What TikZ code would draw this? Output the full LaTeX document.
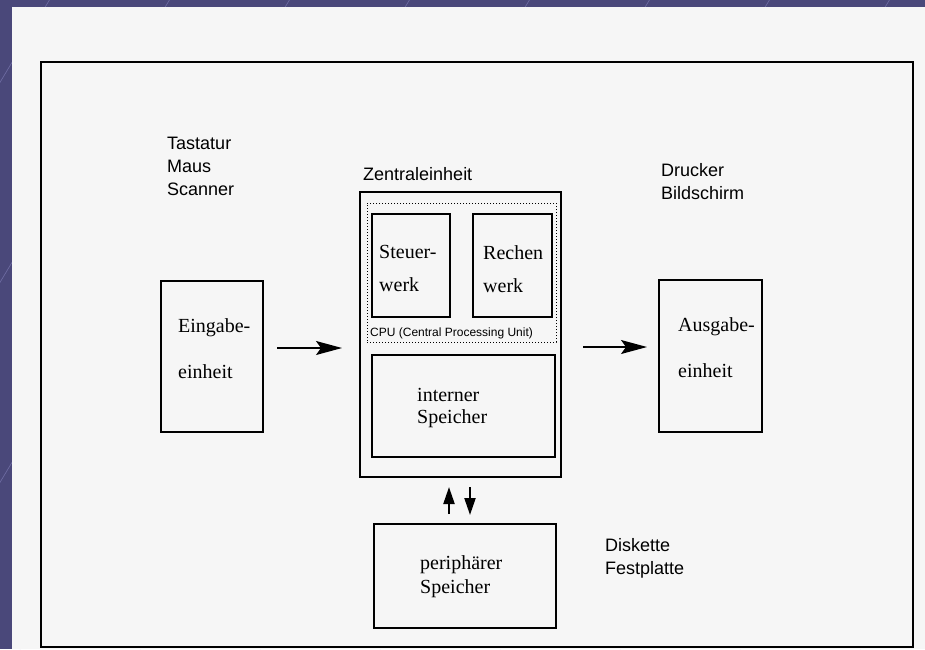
\documentclass[tikz,border=0pt]{standalone}
\usepackage{fontspec}
\setmainfont{Liberation Serif}
\setsansfont{Liberation Sans}
\usepackage{tikz}
\usetikzlibrary{arrows.meta,positioning}
\definecolor{folie}{RGB}{74,72,122}
\definecolor{folielinie}{RGB}{112,110,165}
\definecolor{papier}{RGB}{246,246,246}

\begin{document}
\begin{tikzpicture}[x=1pt, y=-1pt, lbl/.style={inner sep=0pt, align=left, font=\sffamily\fontsize{18}{23}\selectfont}, txt/.style={inner sep=0pt, align=left, anchor=north west}]
\tikzstyle{box}=[draw, line width=1.4pt, inner sep=0pt]
\tikzstyle{pfeil}=[line width=1.2pt, -{Stealth[length=26pt, width=14pt, inset=5pt]}]
\useasboundingbox (0,0) rectangle (925,649);
% Folienhintergrund
\fill[folie] (0,0) rectangle (925,649);
\begin{scope}
\clip (0,0) rectangle (925,649);
\foreach \k in {-700,-580,...,1000}{\draw[folielinie, line width=0.6pt] (\k,649) -- ++(420,-700);}
\end{scope}
\fill[papier] (12,7) rectangle (925,649);
\draw[line width=1.8pt] (41,62) rectangle (913,647);
% Geraete
\node[lbl, anchor=north west] (eingabegeraete) at (167,137) {Tastatur\\Maus\\Scanner};
\node[lbl, anchor=base west] (zentraltitel) at (363,180) {Zentraleinheit};
\node[lbl, anchor=north west] (ausgabegeraete) at (661,163) {Drucker\\Bildschirm};
\node[lbl, anchor=north west] (speichermedien) at (605,538) {Diskette\\Festplatte};
% Kaesten
\node[box, minimum width=102pt, minimum height=151pt] (eingabe) at (212,356.5) {};
\node[box, line width=2.4pt, minimum width=201pt, minimum height=285pt] (zentral) at (460.5,334.5) {};
\node[draw, dotted, line width=1pt, inner sep=0pt, minimum width=189pt, minimum height=139pt] (cpu) at (461.5,272.5) {};
\node[box, minimum width=78pt, minimum height=103pt] (steuer) at (411,265.5) {};
\node[box, minimum width=79pt, minimum height=103pt] (rechen) at (512.5,265.5) {};
\node[box, minimum width=183pt, minimum height=102pt] (intern) at (463.5,406) {};
\node[box, minimum width=182pt, minimum height=104pt] (peripher) at (465,576) {};
\node[box, minimum width=103pt, minimum height=152pt] (ausgabe) at (710.5,356) {};
\node[inner sep=0pt, anchor=base west, font=\sffamily\fontsize{12}{14}\selectfont] (cpulbl) at (370,336) {CPU (Central Processing Unit)};
% Beschriftung
\node[txt, font=\fontsize{20}{46}\selectfont] (eingabetxt) at (178,318) {Eingabe-\\einheit};
\node[txt, font=\fontsize{20}{33}\selectfont] (steuertxt) at (379,245) {Steuer-\\werk};
\node[txt, font=\fontsize{20}{33}\selectfont] (rechentxt) at (483,245) {Rechen\\werk};
\node[txt, font=\fontsize{20}{22}\selectfont] (interntxt) at (417,388) {interner\\Speicher};
\node[txt, font=\fontsize{20}{24}\selectfont] (periphertxt) at (420,555) {periphärer\\Speicher};
\node[txt, font=\fontsize{20}{46}\selectfont] (ausgabetxt) at (678,317) {Ausgabe-\\einheit};
% Pfeile
\coordinate (e1) at (277,348);
\coordinate (e2) at (342,348);
\coordinate (a1) at (583,347);
\coordinate (a2) at (647,347);
\coordinate (u1) at (449,514);
\coordinate (u2) at (449,487);
\coordinate (d1) at (470,487);
\coordinate (d2) at (470,515);
\foreach \i/\j in {e1/e2,a1/a2}{\draw[pfeil] (\i) -- (\j);}
\foreach \i/\j in {u1/u2,d1/d2}{\draw[line width=2.2pt, -{Triangle[length=17pt, width=11pt]}] (\i) -- (\j);}
\end{tikzpicture}
\end{document}
